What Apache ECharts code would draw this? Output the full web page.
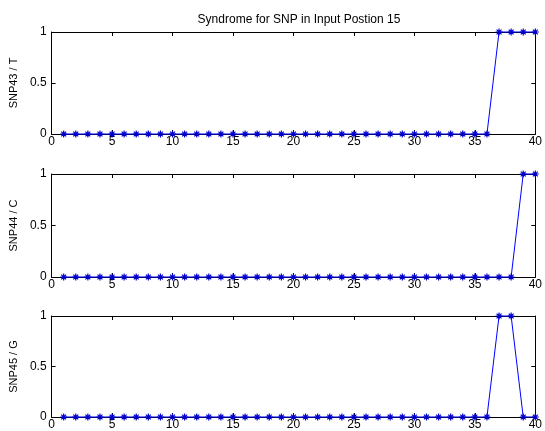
<!DOCTYPE html>
<html>
<head>
<meta charset="utf-8">
<title>Syndrome for SNP</title>
<script src="https://cdn.jsdelivr.net/npm/echarts@6/dist/echarts.min.js"></script>
<style>
  html, body { margin: 0; padding: 0; background: #fff; }
  #container { width: 545px; height: 431px; }
</style>
</head>
<body>
<div id="container"></div>
<script>
// input positions 1..40
var positions = [1,2,3,4,5,6,7,8,9,10,11,12,13,14,15,16,17,18,19,20,
                 21,22,23,24,25,26,27,28,29,30,31,32,33,34,35,36,37,38,39,40];
var snp43 = [0,0,0,0,0,0,0,0,0,0,0,0,0,0,0,0,0,0,0,0,
             0,0,0,0,0,0,0,0,0,0,0,0,0,0,0,0,1,1,1,1];
var snp44 = [0,0,0,0,0,0,0,0,0,0,0,0,0,0,0,0,0,0,0,0,
             0,0,0,0,0,0,0,0,0,0,0,0,0,0,0,0,0,0,1,1];
var snp45 = [0,0,0,0,0,0,0,0,0,0,0,0,0,0,0,0,0,0,0,0,
             0,0,0,0,0,0,0,0,0,0,0,0,0,0,0,0,1,1,0,0];
var panelNames = ['SNP43 / T', 'SNP44 / C', 'SNP45 / G'];
var panelData = [snp43, snp44, snp45];

var font = 'Liberation Sans, Arial, sans-serif';
var star = 'path://M0,-1L0,1M-1,0L1,0M-0.7,-0.7L0.7,0.7M-0.7,0.7L0.7,-0.7';
var grids = [
  {left: 51, right: 6, top: 32, height: 102},
  {left: 51, right: 6, top: 174, height: 103},
  {left: 51, right: 6, top: 316, height: 102}
];

var xAxes = [], yAxes = [], series = [];
panelData.forEach(function(vals, i){
  // bottom x axis with labels
  xAxes.push({
    type: 'value', gridIndex: i, min: 0, max: 40, interval: 5, position: 'bottom',
    axisLine: {onZero: false, lineStyle: {color: '#000', width: 1}},
    axisTick: {inside: true, length: 4, lineStyle: {color: '#000'}},
    axisLabel: {color: '#000', fontFamily: font, fontSize: 12, margin: 2},
    splitLine: {show: false}
  });
  // top box edge
  xAxes.push({
    type: 'value', gridIndex: i, min: 0, max: 40, interval: 5, position: 'top',
    axisLine: {onZero: false, lineStyle: {color: '#000', width: 1}},
    axisTick: {inside: true, length: 4, lineStyle: {color: '#000'}},
    axisLabel: {show: false}, splitLine: {show: false}
  });
  yAxes.push({
    type: 'value', gridIndex: i, min: 0, max: 1, interval: 0.5, position: 'left',
    name: panelNames[i], nameLocation: 'middle', nameGap: 26, nameRotate: 90,
    nameTextStyle: {color: '#000', fontFamily: font, fontSize: 11},
    axisLine: {show: true, onZero: false, lineStyle: {color: '#000', width: 1}},
    axisTick: {show: true, inside: true, length: 4, lineStyle: {color: '#000'}},
    axisLabel: {color: '#000', fontFamily: font, fontSize: 12, margin: 5},
    splitLine: {show: false}
  });
  // right box edge
  yAxes.push({
    type: 'value', gridIndex: i, min: 0, max: 1, interval: 0.5, position: 'right',
    axisLine: {show: true, onZero: false, lineStyle: {color: '#000', width: 1}},
    axisTick: {show: true, inside: true, length: 4, lineStyle: {color: '#000'}},
    axisLabel: {show: false}, splitLine: {show: false}
  });
  series.push({
    type: 'line', xAxisIndex: i * 2, yAxisIndex: i * 2,
    data: positions.map(function(p, k){ return [p, vals[k]]; }),
    symbol: star, symbolSize: 7, showAllSymbol: true,
    lineStyle: {color: '#0000ff', width: 1},
    itemStyle: {color: '#0000cc', borderColor: '#0000cc', borderWidth: 1.2},
    animation: false, silent: true, clip: false
  });
});

var myChart = echarts.init(document.getElementById('container'));
myChart.setOption({
  backgroundColor: '#fff',
  animation: false,
  title: {
    text: 'Syndrome for SNP in Input Postion 15', left: 294, top: 9, textAlign: 'center',
    textStyle: {color: '#000', fontFamily: font, fontSize: 12, fontWeight: 'normal'}
  },
  grid: grids,
  xAxis: xAxes,
  yAxis: yAxes,
  series: series
});
</script>
</body>
</html>
